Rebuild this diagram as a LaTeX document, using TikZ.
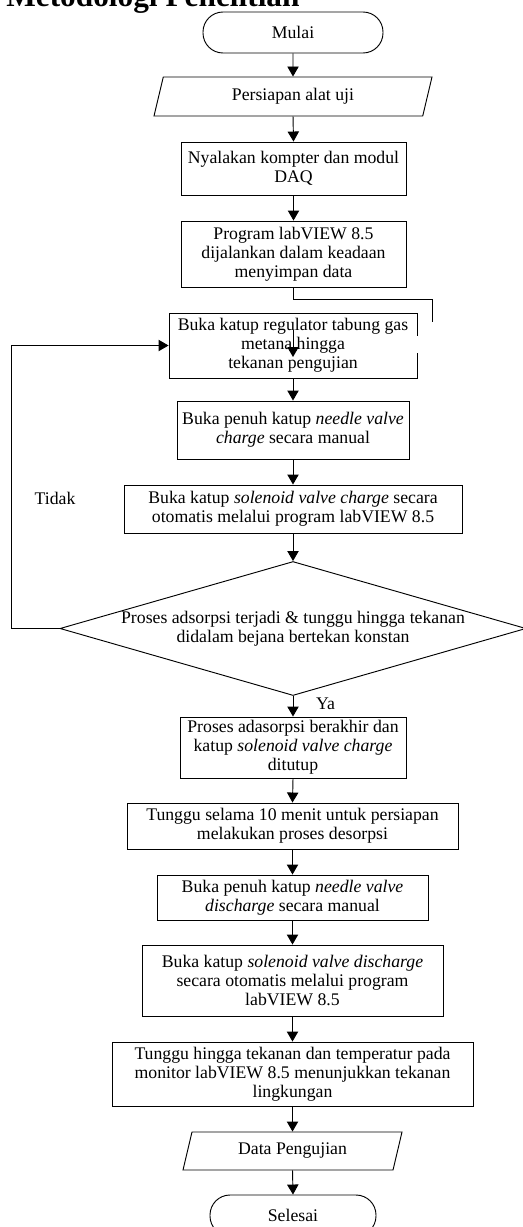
\documentclass[tikz,border=0pt]{standalone}
\usepackage{fontspec}
\setmainfont{Liberation Serif}
\usepackage{tikz}
\usetikzlibrary{arrows.meta,positioning,shapes.geometric}
\newcommand{\teksfont}{\fontsize{13.3}{14.2}\selectfont}

\begin{document}
\begin{tikzpicture}[
    x=0.75pt,y=-0.75pt,
    proses/.style={draw, line width=0.7pt, align=center, inner sep=0pt, font=\teksfont},
    terminal/.style={proses, rounded corners=15pt},
    io/.style={proses, trapezium, trapezium left angle=60, trapezium right angle=120,
               trapezium stretches body},
    keputusan/.style={proses, diamond, aspect=3.48},
    lbl/.style={font=\teksfont, inner sep=0pt},
    arrow/.style={-{Triangle[length=7.5pt,width=8.5pt]}, line width=0.7pt},
    garis/.style={line width=0.7pt}
]
\useasboundingbox (0,0) rectangle (522,1227);

% Judul (terpotong di tepi atas)
\node[font=\bfseries\fontsize{23.5}{28}\selectfont, inner sep=0pt, anchor=base west] (judul) at (6,7) {Metodologi Penelitian};

% Alur utama
\node[terminal, minimum width=135pt, minimum height=30.75pt] (mulai) at (293,32.5) {Mulai};
\node[io, minimum width=208.5pt, minimum height=29.25pt] (persiapan) at (293,96.5) {Persiapan alat uji};
\node[proses, minimum width=168.75pt, minimum height=39.75pt] (nyalakan) at (293.5,168.5) {Nyalakan kompter dan modul\\DAQ};
\node[proses, minimum width=168.75pt, minimum height=49.5pt] (program) at (293.5,254) {Program labVIEW 8.5\\dijalankan dalam keadaan\\menyimpan data};
\node[proses, minimum width=186pt, minimum height=48.75pt] (regulator) at (293,345.5) {Buka katup regulator tabung gas\\metana hingga\hspace*{80pt}\\tekanan pengujian};
\node[proses, minimum width=174pt, minimum height=43.5pt] (needle1) at (293,430) {Buka penuh katup \textit{needle valve}\\\textit{charge} secara manual};
\node[proses, minimum width=253.5pt, minimum height=36pt] (solenoid1) at (293,509) {Buka katup \textit{solenoid valve charge} secara\\otomatis melalui program labVIEW 8.5};
\node[keputusan, minimum width=349.5pt, minimum height=100.5pt] (cek) at (293,628.5) {Proses adsorpsi terjadi \& tunggu hingga tekanan\\didalam bejana bertekan konstan};
\node[proses, minimum width=169.5pt, minimum height=45.75pt] (tutup) at (293,747.5) {Proses adasorpsi berakhir dan\\katup \textit{solenoid valve charge}\\ditutup};
\node[proses, minimum width=248.25pt, minimum height=34.5pt] (tunggu) at (292.5,826) {Tunggu selama 10 menit untuk persiapan\\melakukan proses desorpsi};
\node[proses, minimum width=203.25pt, minimum height=33.75pt] (needle2) at (292.5,897.5) {Buka penuh katup \textit{needle valve}\\\textit{discharge} secara manual};
\node[proses, minimum width=225.75pt, minimum height=53.25pt] (solenoid2) at (292.5,980.5) {Buka katup \textit{solenoid valve discharge}\\secara otomatis melalui program\\labVIEW 8.5};
\node[proses, minimum width=270.75pt, minimum height=48pt] (lingkungan) at (292.5,1074) {Tunggu hingga tekanan dan temperatur pada\\monitor labVIEW 8.5 menunjukkan tekanan\\lingkungan};
\node[io, minimum width=164.25pt, minimum height=28.5pt] (data) at (292.5,1151) {Data Pengujian};
\node[terminal, minimum width=124.5pt, minimum height=30.75pt] (selesai) at (293,1215.5) {Selesai};

% label
\node[lbl] (tidak) at (55,498) {Tidak};

% tepi kanan kotak regulator yang terputus
\fill[white] (413,336) rectangle (421,353);

% Panah
\draw[arrow] (mulai.south) -- (persiapan.north);
\draw[arrow] (persiapan.south) -- (nyalakan.north);
\draw[arrow] (nyalakan.south) -- (program.north);
\coordinate (ujung) at (432,322);
\draw[garis] (program.south) -- ++(0,12) -| (ujung);
\coordinate (pa) at (293,330);
\coordinate (pb) at (293,357);
\draw[arrow] (pa) -- (pb);
\draw[arrow] (regulator.south) -- (needle1.north);
\draw[arrow] (needle1.south) -- (solenoid1.north);
\draw[arrow] (solenoid1.south) -- (cek.north);
\draw[arrow] (cek.south) -- node[lbl, pos=.38, anchor=west, xshift=17pt] (ya) {Ya} (tutup.north);
\draw[arrow] (cek.west) -- ++(-48,0) |- (regulator.west);
\draw[arrow] (tutup.south) -- (tunggu.north);
\draw[arrow] (tunggu.south) -- (needle2.north);
\draw[arrow] (needle2.south) -- (solenoid2.north);
\draw[arrow] (solenoid2.south) -- (lingkungan.north);
\draw[arrow] (lingkungan.south) -- (data.north);
\draw[arrow] (data.south) -- (selesai.north);
\end{tikzpicture}
\end{document}
